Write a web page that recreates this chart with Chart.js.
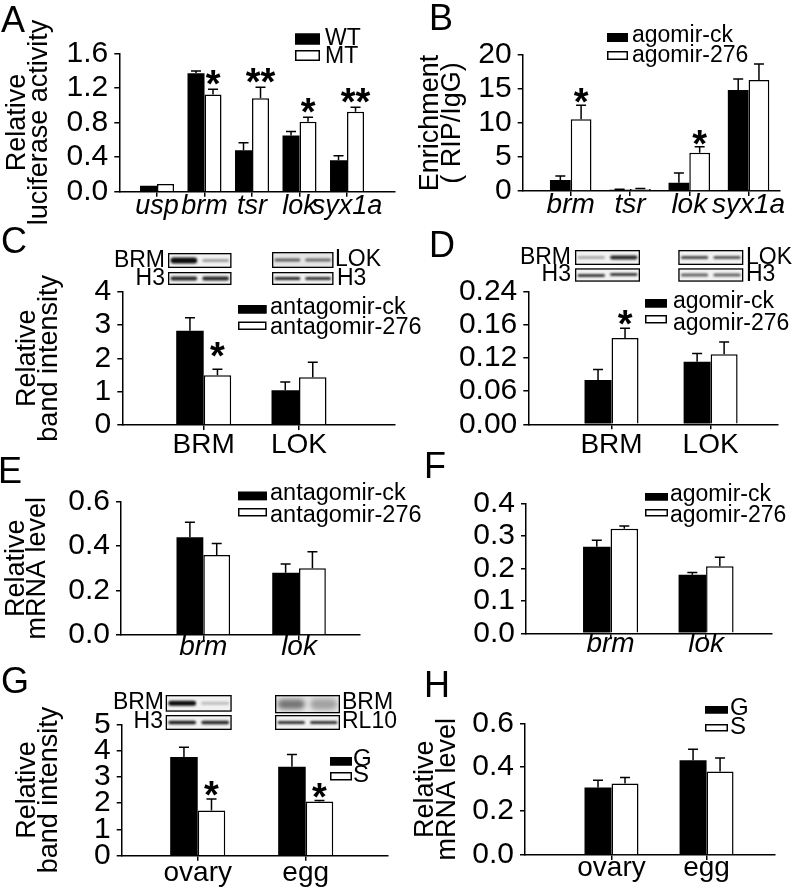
<!DOCTYPE html>
<html><head><meta charset="utf-8">
<script src="https://cdn.jsdelivr.net/npm/chart.js@4.4.1/dist/chart.umd.min.js"></script>
<style>
html,body{margin:0;padding:0;background:#fff;}
body{width:796px;height:887px;position:relative;overflow:hidden;}
canvas{position:absolute;}
</style></head><body>
<canvas id="cA"></canvas><canvas id="cB"></canvas>
<canvas id="cC"></canvas><canvas id="cD"></canvas>
<canvas id="cE"></canvas><canvas id="cF"></canvas>
<canvas id="cG"></canvas><canvas id="cH"></canvas>
<script>
// ---------- DATA ----------
// A: relative luciferase activity
const catsA = ['usp','brm','tsr','lok','syx1a'];
const wtA = [0.07, 1.37, 0.48, 0.65, 0.365];
const wtErrA = [0, 0.025, 0.085, 0.046, 0.05];
const mtA = [0.09, 1.125, 1.08, 0.81, 0.925];
const mtErrA = [0, 0.06, 0.127, 0.05, 0.05];
const mtSigA = ['', '*', '**', '*', '**'];
const yTicksA = ['0.0','0.4','0.8','1.2','1.6'];
// B: enrichment (RIP/IgG)
const catsB = ['brm','tsr','lok','syx1a'];
const ckB = [1.62, 0.2, 1.23, 14.85];
const ckErrB = [0.6, 0.05, 1.4, 1.62];
const agB = [10.54, 0.3, 5.64, 16.32];
const agErrB = [2.06, 0.05, 0.88, 2.36];
const agSigB = ['*', '', '*', ''];
const yTicksB = ['0','5','10','15','20'];
// C: relative band intensity, antagomir
const catsC = ['BRM','LOK'];
const ckC = [2.83, 1.04];
const ckErrC = [0.39, 0.25];
const anC = [1.49, 1.43];
const anErrC = [0.18, 0.45];
const anSigC = ['*', ''];
const yTicksC = ['0','1','2','3','4'];
// D: relative band intensity, agomir
const catsD = ['BRM','LOK'];
const ckD = [0.08, 0.113];
const ckErrD = [0.019, 0.015];
const agD = [0.156, 0.127];
const agErrD = [0.018, 0.022];
const agSigD = ['*', ''];
const yTicksD = ['0.00','0.06','0.12','0.16','0.24'];
// E: relative mRNA level, antagomir
const catsE = ['brm','lok'];
const ckE = [0.44, 0.28];
const ckErrE = [0.068, 0.04];
const anE = [0.36, 0.30];
const anErrE = [0.052, 0.075];
const yTicksE = ['0.0','0.2','0.4','0.6'];
// F: relative mRNA level, agomir
const catsF = ['brm','lok'];
const ckF = [0.266, 0.18];
const ckErrF = [0.02, 0.007];
const agF = [0.322, 0.206];
const agErrF = [0.008, 0.028];
const yTicksF = ['0.0','0.1','0.2','0.3','0.4'];
// G: relative band intensity, G vs S
const catsG = ['ovary','egg'];
const gG = [3.76, 3.38];
const gErrG = [0.37, 0.47];
const sG = [1.72, 2.06];
const sErrG = [0.44, 0.04];
const sSigG = ['*', '*'];
const yTicksG = ['0','1','2','3','4','5'];
// H: relative mRNA level, G vs S
const catsH = ['ovary','egg'];
const gH = [0.308, 0.432];
const gErrH = [0.032, 0.05];
const sH = [0.326, 0.38];
const sErrH = [0.027, 0.062];
const yTicksH = ['0.0','0.2','0.4','0.6'];

// ---------- RENDERING ----------
const FONT = '"Liberation Sans", Arial, Helvetica, sans-serif';
Chart.defaults.font.family = FONT;
Chart.defaults.color = '#000';

function series(label, values, errors, sig) { return {label, values, errors, sig: sig || []}; }

function errPlugin(p) {
  return {
    id: 'errbars',
    afterDatasetsDraw(chart) {
      const ctx = chart.ctx, ys = chart.scales.y;
      chart.data.datasets.forEach((ds, i) => {
        const meta = chart.getDatasetMeta(i);
        meta.data.forEach((bar, j) => {
          const v = ds.data[j].y, e = ds.errors[j] || 0;
          const top = ys.getPixelForValue(v + e);
          ctx.save();
          if (e > 0) {
            ctx.strokeStyle = '#000'; ctx.lineWidth = 1.5;
            ctx.beginPath();
            ctx.moveTo(bar.x, bar.y); ctx.lineTo(bar.x, top);
            ctx.moveTo(bar.x - 5, top); ctx.lineTo(bar.x + 5, top);
            ctx.stroke();
          }
          const s = ds.sig[j];
          if (s) {
            ctx.font = 'bold 38px ' + FONT;
            ctx.fillStyle = '#000'; ctx.textAlign = 'center'; ctx.textBaseline = 'alphabetic';
            const m = ctx.measureText(s);
            const bottom = top - (p.starGap || 3);
            ctx.fillText(s, bar.x, bottom - m.actualBoundingBoxDescent);
          }
          ctx.restore();
        });
      });
    }
  };
}

function drawBlot(ctx, b, ox, oy) {
  const x = b.r[0] - ox, y = b.r[1] - oy, w = b.r[2], h = b.r[3];
  ctx.save();
  ctx.fillStyle = b.bg || '#f2f2f2';
  ctx.fillRect(x, y, w, h);
  ctx.beginPath(); ctx.rect(x, y, w, h); ctx.clip();
  ctx.filter = 'blur(' + (b.blur || 1.2) + 'px)';
  const laneW = w / 2;
  b.lanes.forEach((ln, k) => {
    const a = ln[0], t = ln[1];
    const lx = x + k * laneW + laneW * 0.08, lw = laneW * 0.84;
    ctx.fillStyle = 'rgba(0,0,0,' + a + ')';
    ctx.beginPath();
    ctx.roundRect(lx, y + h / 2 - t / 2 + (ln[2] || 0), lw, t, t / 2);
    ctx.fill();
  });
  ctx.restore();
  ctx.save();
  ctx.strokeStyle = '#000'; ctx.lineWidth = 1.3;
  ctx.strokeRect(x + 0.65, y + 0.65, w - 1.3, h - 1.3);
  ctx.restore();
}

function decoPlugin(p) {
  return {
    id: 'deco',
    afterDraw(chart) {
      const ctx = chart.ctx, ox = p.box[0], oy = p.box[1];
      ctx.save();
      ctx.font = '36px ' + FONT; ctx.fillStyle = '#000';
      ctx.textAlign = 'left'; ctx.textBaseline = 'alphabetic';
      ctx.fillText(p.letter[0], p.letter[1] - ox, p.letter[2] - oy);
      const L = p.legend;
      L.rows.forEach((r, k) => {
        const ds = chart.data.datasets[k];
        ctx.fillStyle = ds.backgroundColor;
        ctx.fillRect(L.x - ox, r[0] - oy, L.w, L.h);
        ctx.strokeStyle = '#000'; ctx.lineWidth = 1.5;
        ctx.strokeRect(L.x - ox + 0.75, r[0] - oy + 0.75, L.w - 1.5, L.h - 1.5);
        ctx.fillStyle = '#000';
        ctx.font = L.size + 'px ' + FONT;
        ctx.textAlign = 'left'; ctx.textBaseline = 'alphabetic';
        ctx.fillText(ds.label, L.tx - ox, r[1] - oy);
      });
      (p.blots || []).forEach(b => drawBlot(ctx, b, ox, oy));
      (p.blotLabels || []).forEach(t => {
        ctx.font = '23px ' + FONT; ctx.fillStyle = '#000';
        ctx.textAlign = t[3]; ctx.textBaseline = 'middle';
        ctx.fillText(t[0], t[1] - ox, t[2] - oy);
      });
      ctx.restore();
    }
  };
}

function makePanel(p) {
  const cv = document.getElementById(p.id);
  const [cx, cy, cw, ch] = p.box;
  const [aL, aT, aR, aB] = p.area;
  cv.width = cw; cv.height = ch;
  cv.style.left = cx + 'px'; cv.style.top = cy + 'px';
  const cats = p.cats, yLabels = p.yLabels, step = p.step;
  new Chart(cv, {
    type: 'bar',
    data: {
      datasets: p.series.map((s, k) => ({
        label: s.label,
        data: s.values.map((v, i) => ({x: i, y: v})),
        errors: s.errors, sig: s.sig,
        backgroundColor: k === 0 ? '#000' : '#fff',
        borderColor: '#000',
        borderWidth: k === 0 ? 0 : 1.5,
        categoryPercentage: p.catPct,
        barPercentage: 1.0
      }))
    },
    options: {
      responsive: false, animation: false, devicePixelRatio: 1,
      layout: {padding: {left: 0, top: aT - cy, right: cx + cw - aR, bottom: 0}},
      plugins: {legend: {display: false}, tooltip: {enabled: false}},
      scales: {
        x: {
          type: 'linear', min: p.xMin, max: p.xMax, offset: false, bounds: 'ticks',
          afterBuildTicks: sc => { sc.ticks = cats.map((c, i) => ({value: i})); },
          afterFit: sc => { sc.height = cy + ch - aB; },
          ticks: {
            autoSkip: false, maxRotation: 0, minRotation: 0,
            padding: p.xPad,
            font: {size: p.xSize || 28, style: p.italic ? 'italic' : 'normal', lineHeight: 1},
            color: '#000',
            callback: v => cats[Math.round(v)]
          },
          grid: {drawOnChartArea: false, drawTicks: true, tickLength: 5, color: '#000', lineWidth: 1.5, offset: false},
          border: {display: true, color: '#000', width: 1.5}
        },
        y: {
          type: 'linear', min: 0, max: step * (yLabels.length - 1),
          afterBuildTicks: sc => { sc.ticks = yLabels.map((l, i) => ({value: i * step})); },
          afterFit: sc => { sc.width = aL - cx; },
          ticks: {
            autoSkip: false,
            padding: 6, font: {size: 30, lineHeight: 1}, color: '#000',
            callback: (v, i) => yLabels[i]
          },
          grid: {drawOnChartArea: false, drawTicks: true, tickLength: 5, color: '#000', lineWidth: 1.5},
          border: {display: true, color: '#000', width: 1.5},
          title: {
            display: !!p.yTitle, text: p.yTitle || '', color: '#000',
            font: {size: 27, lineHeight: 0.8},
            padding: {top: p.titlePad || 0, bottom: 0}
          }
        }
      }
    },
    plugins: [errPlugin(p), decoPlugin(p)]
  });
}

makePanel({
  id: 'cA', box: [0, 0, 400, 225], area: [119.3, 53.3, 395, 191.7],
  cats: catsA, yLabels: yTicksA, step: 0.4, xMin: -0.794, xMax: 5.01, catPct: 0.716,
  italic: true, xSize: 27, xPad: -4, yTitle: ['Relative', 'luciferase activity'], titlePad: 7, starGap: 4,
  series: [series('WT', wtA, wtErrA), series('MT', mtA, mtErrA, mtSigA)],
  letter: ['A', 1, 32],
  legend: {x: 295, w: 25, h: 11, tx: 325, size: 23, rows: [[33.5, 45], [50, 63]]}
});
makePanel({
  id: 'cB', box: [400, 0, 396, 225], area: [522.7, 55, 780, 191],
  cats: catsB, yLabels: yTicksB, step: 5, xMin: -0.81, xMax: 3.53, catPct: 0.70,
  italic: true, xPad: -5, yTitle: ['Enrichment', '( RIP/IgG)'], titlePad: 20, starGap: 2,
  series: [series('agomir-ck', ckB, ckErrB), series('agomir-276', agB, agErrB, agSigB)],
  letter: ['B', 429, 30],
  legend: {x: 607, w: 21, h: 9, tx: 632, size: 23, rows: [[33, 42], [51, 62]]}
});
makePanel({
  id: 'cC', box: [0, 222, 440, 240], area: [122.3, 291.7, 395, 425],
  cats: catsC, yLabels: yTicksC, step: 1, xMin: -0.854, xMax: 2.007, catPct: 0.577,
  italic: false, xPad: 1.5, yTitle: ['Relative', 'band intensity'], titlePad: 17, starGap: 12,
  series: [series('antagomir-ck', ckC, ckErrC), series('antagomir-276', anC, anErrC, anSigC)],
  letter: ['C', 1, 253],
  legend: {x: 238, w: 28.5, h: 8.5, tx: 270, size: 23.5, rows: [[305, 313.5], [321.5, 334]]},
  blots: [
    {r: [168, 253, 63.5, 15], lanes: [[0.95, 6], [0.35, 3]]},
    {r: [168, 272, 63.5, 13], lanes: [[0.85, 4], [0.85, 4]]},
    {r: [272, 252, 61.5, 16], lanes: [[0.6, 3], [0.55, 3]], bg: '#e6e6e6'},
    {r: [272, 272, 61.5, 13], lanes: [[0.85, 3], [0.8, 3]]}
  ],
  blotLabels: [['BRM', 165, 261, 'right'], ['H3', 165, 278.5, 'right'], ['LOK', 335, 260, 'left'], ['H3', 337, 278.5, 'left']]
});
makePanel({
  id: 'cD', box: [400, 222, 396, 240], area: [528.3, 291.7, 778, 424.3],
  cats: catsD, yLabels: yTicksD, step: 0.06, xMin: -0.84, xMax: 1.68, catPct: 0.545,
  italic: false, xPad: 2, starGap: 3,
  series: [series('agomir-ck', ckD, ckErrD), series('agomir-276', agD, agErrD, agSigD)],
  letter: ['D', 429, 257],
  legend: {x: 645, w: 22, h: 8.5, tx: 673, size: 23, rows: [[299, 307.5], [315, 330]]},
  blots: [
    {r: [575, 250, 65, 15], lanes: [[0.35, 2.5], [0.85, 4]]},
    {r: [575, 268.3, 65, 13.4], lanes: [[0.9, 2.5, 0.5], [0.9, 2.5, -0.5]], blur: 0.8},
    {r: [678.3, 250, 65, 15], lanes: [[0.7, 3], [0.65, 3]]},
    {r: [678.3, 268.3, 65, 13.4], lanes: [[0.6, 3], [0.6, 3]]}
  ],
  blotLabels: [['BRM', 571, 258, 'right'], ['H3', 571, 275, 'right'], ['LOK', 746, 258, 'left'], ['H3', 746, 275, 'left']]
});
makePanel({
  id: 'cE', box: [0, 445, 440, 222], area: [121, 501.7, 360, 635],
  cats: catsE, yLabels: yTicksE, step: 0.2, xMin: -0.86, xMax: 1.637, catPct: 0.56,
  italic: true, xPad: -7, yTitle: ['Relative', 'mRNA level'], titlePad: 5.5,
  series: [series('antagomir-ck', ckE, ckErrE), series('antagomir-276', anE, anErrE)],
  letter: ['E', -2, 483],
  legend: {x: 238, w: 29, h: 8.5, tx: 270, size: 23.5, rows: [[491.7, 500], [508, 521.7]]}
});
makePanel({
  id: 'cF', box: [400, 445, 396, 222], area: [526, 503.3, 772, 633.3],
  cats: catsF, yLabels: yTicksF, step: 0.1, xMin: -0.885, xMax: 1.69, catPct: 0.576,
  italic: true, xPad: -8,
  series: [series('agomir-ck', ckF, ckErrF), series('agomir-276', agF, agErrF)],
  letter: ['F', 424, 478],
  legend: {x: 645, w: 23, h: 7.5, tx: 670, size: 23, rows: [[493, 500.5], [509, 522]]}
});
makePanel({
  id: 'cG', box: [0, 662, 400, 225], area: [121.7, 724.3, 388, 855.7],
  cats: catsG, yLabels: yTicksG, step: 1, xMin: -0.704, xMax: 1.762, catPct: 0.51,
  italic: false, xPad: -1.5, yTitle: ['Relative', 'band intensity'], titlePad: 17, starGap: 3,
  series: [series('G', gG, gErrG), series('S', sG, sErrG, sSigG)],
  letter: ['G', 1, 693],
  legend: {x: 330, w: 22, h: 8.5, tx: 353, size: 24, rows: [[757, 766], [772, 782]]},
  blots: [
    {r: [165.7, 695, 66, 16.7], lanes: [[0.95, 5], [0.22, 3]]},
    {r: [165.7, 715, 66, 15], lanes: [[0.9, 3.5], [0.85, 3.5]]},
    {r: [275, 695, 65, 18.3], lanes: [[0.5, 10], [0.3, 11]], blur: 2.5, bg: '#e8e8e8'},
    {r: [275, 715, 65, 15], lanes: [[0.8, 3], [0.8, 3]]}
  ],
  blotLabels: [['BRM', 164, 703, 'right'], ['H3', 163, 722, 'right'], ['BRM', 342, 703, 'left'], ['RL10', 342, 722, 'left']]
});
makePanel({
  id: 'cH', box: [400, 662, 396, 225], area: [525, 723.3, 775, 855],
  cats: catsH, yLabels: yTicksH, step: 0.2, xMin: -0.91, xMax: 1.72, catPct: 0.568,
  italic: false, xPad: -6, yTitle: ['Relative', 'mRNA level'], titlePad: 15,
  series: [series('G', gH, gErrH), series('S', sH, sErrH)],
  letter: ['H', 424, 697],
  legend: {x: 705, w: 23, h: 7.5, tx: 730, size: 24, rows: [[706, 715], [724, 734]]}
});
</script>
</body></html>
